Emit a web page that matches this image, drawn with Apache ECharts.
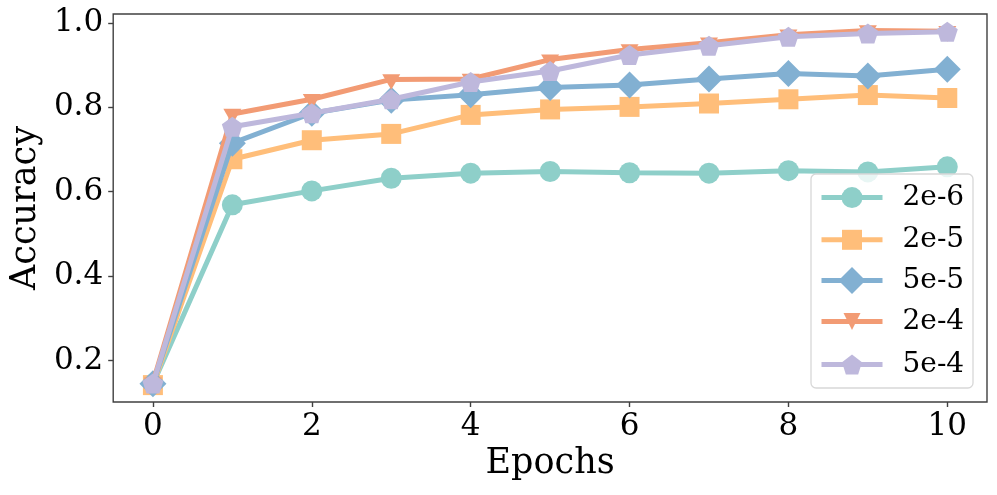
<!DOCTYPE html>
<html>
<head>
<meta charset="utf-8">
<script src="https://cdn.jsdelivr.net/npm/echarts@6/dist/echarts.min.js"></script>
<style>
html,body{margin:0;padding:0;background:#fff;}
#chart{width:997px;height:495px;}
</style>
</head>
<body>
<div id="chart"></div>
<script>
var epochs = ['0','1','2','3','4','5','6','7','8','9','10'];
var seriesNames = ['2e-6','2e-5','5e-5','2e-4','5e-4'];
var lr_2e6 = [0.144,0.569,0.602,0.632,0.644,0.648,0.645,0.644,0.650,0.647,0.659];
var lr_2e5 = [0.142,0.677,0.722,0.737,0.782,0.795,0.801,0.809,0.819,0.829,0.822];
var lr_5e5 = [0.145,0.715,0.786,0.817,0.830,0.847,0.853,0.867,0.880,0.874,0.890];
var lr_2e4 = [0.148,0.784,0.819,0.866,0.867,0.913,0.937,0.953,0.972,0.982,0.980];
var lr_5e4 = [0.146,0.754,0.786,0.819,0.860,0.886,0.924,0.946,0.967,0.975,0.979];
var yTicks = [0.2,0.4,0.6,0.8,1.0];

var colors = ['#8ecfc9','#ffbe7a','#82b0d2','#f29b74','#beb8dc'];
var pentagon = 'path://M0,-1 L0.951,-0.309 L0.588,0.809 L-0.588,0.809 L-0.951,-0.309 Z';
var symbols = [
  {symbol:'circle', symbolSize:21, legendSize:21, legendShift:0},
  {symbol:'rect', symbolSize:20, legendSize:20, legendShift:0},
  {symbol:'diamond', symbolSize:27, legendSize:27, legendShift:3.5},
  {symbol:'triangle', symbolSize:[18,15.6], symbolRotate:180, symbolOffset:[0,2.6], legendSize:17, legendShift:-3.5},
  {symbol:pentagon, symbolSize:[21,20], legendSize:20, legendShift:0}
];
var dataArr = [lr_2e6, lr_2e5, lr_5e5, lr_2e4, lr_5e4];

var font = 'DejaVu Serif';
var series = seriesNames.map(function(n,i){
  var s = {
    name:n, type:'line', data:dataArr[i],
    lineStyle:{width:5, color:colors[i]},
    itemStyle:{color:colors[i], opacity:1},
    symbol:symbols[i].symbol, symbolSize:symbols[i].symbolSize,
    showAllSymbol:true, animation:false, z:2+i
  };
  if (symbols[i].symbolRotate) s.symbolRotate = symbols[i].symbolRotate;
  if (symbols[i].symbolOffset) s.symbolOffset = symbols[i].symbolOffset;
  return s;
});

// one legend per entry so each marker can have its own size
var legendBox = {left:811, top:174, width:162, height:214};
var firstCenter = 196.7, rowStep = 41.6;
var legends = seriesNames.map(function(n,i){
  var ih = symbols[i].legendSize / 0.8;
  return {
    orient:'vertical', left:819, top:firstCenter + rowStep*i - ih/2 + symbols[i].legendShift,
    padding:0, itemWidth:61, itemHeight:ih, itemGap:0,
    lineStyle:{width:5},
    textStyle:{fontFamily:font, fontSize:28, color:'#000', lineHeight:18, padding:[0,0,0,15]},
    data:[n], z:20, selectedMode:false
  };
});

var chart = echarts.init(document.getElementById('chart'));
chart.setOption({
  animation:false,
  backgroundColor:'#fff',
  color:colors,
  grid:{left:113, right:10, top:14, bottom:93, show:true, borderColor:'#404040', borderWidth:1.4, backgroundColor:'transparent'},
  xAxis:{
    type:'category', data:epochs, boundaryGap:true,
    name:'Epochs', nameLocation:'middle', nameGap:40,
    nameTextStyle:{fontFamily:font, fontSize:35, color:'#000'},
    axisLine:{show:false},
    axisTick:{show:true, alignWithLabel:true, interval:1, length:5, lineStyle:{color:'#404040', width:1.4}},
    axisLabel:{interval:1, fontFamily:font, fontSize:31, color:'#000', margin:9},
    splitLine:{show:false}
  },
  yAxis:{
    type:'value', min:0.102, max:1.021,
    name:'Accuracy', nameLocation:'middle', nameGap:66,
    nameTextStyle:{fontFamily:font, fontSize:35, color:'#000'},
    axisLine:{show:false},
    axisTick:{show:true, length:5, customValues:yTicks, lineStyle:{color:'#404040', width:1.4}},
    axisLabel:{customValues:yTicks, fontFamily:font, fontSize:31, color:'#000', margin:10,
      formatter:function(v){return v.toFixed(1);}},
    splitLine:{show:false}
  },
  graphic:[{
    type:'rect', z:15, silent:true,
    shape:{x:legendBox.left, y:legendBox.top, width:legendBox.width, height:legendBox.height, r:5},
    style:{fill:'rgba(255,255,255,0.8)', stroke:'#d8d8d8', lineWidth:1.3}
  }],
  legend:legends,
  series:series
});
</script>
</body>
</html>
